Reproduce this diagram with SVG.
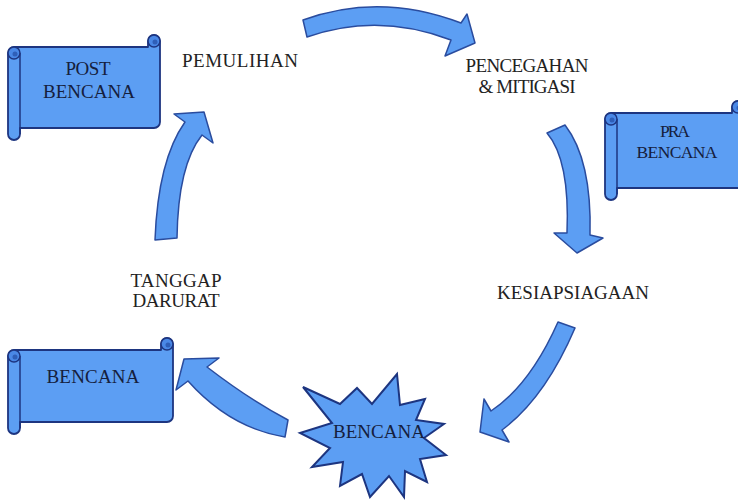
<svg xmlns="http://www.w3.org/2000/svg" width="738" height="500" viewBox="0 0 738 500">
<defs>
<style>
.bg{fill:#ffffff}
.scroll{fill:#5c9ef3;stroke:#1d3580;stroke-width:1.8;stroke-linejoin:round}
.roll{fill:#4a88e6;stroke:#1d3580;stroke-width:1.5}
.curl{fill:#2f5fb8;stroke:none}
.line{fill:none;stroke:#1d3580;stroke-width:1.5}
.arrow{fill:#5c9ef3;stroke:#2a4c9e;stroke-width:1.5;stroke-linejoin:round}
.star{fill:#5c9ef3;stroke:#1d3580;stroke-width:2;stroke-linejoin:miter}
.st{font-family:"Liberation Serif","Times New Roman",serif;font-size:19px;fill:#15203d;text-anchor:middle}
.sm{font-size:17.5px}
.lb{font-family:"Liberation Serif","Times New Roman",serif;font-size:19px;fill:#222222;text-anchor:middle}
</style>
</defs>
<rect class="bg" x="0" y="0" width="738" height="500"/>

<g id="connectors">
  <path id="arrow-top" class="arrow" d="M303,20 Q380,-8 461,23 L467,14 L475,43 L445,56 L451,40 Q378,12 307,37 Z"/>
  <path id="arrow-right" class="arrow" d="M547,133 Q570,160 567,233 L554,233 L577,253 L603,238 L590,235 Q592,160 565,125 Z"/>
  <path id="arrow-lower-right" class="arrow" d="M558,322 Q530,385 491,411 L484,399 L480,432 L509,442 L502,430 Q545,398 575,328 Z"/>
  <path id="arrow-bottom-left" class="arrow" d="M288,420 Q250,400 207,367 L219,358 L184,359 L176,390 L188,381 Q230,428 285,437 Z"/>
  <path id="arrow-left" class="arrow" d="M155,240 Q158,160 185,122 L174,114 L204,112 L213,143 L202,135 Q178,165 177,238 Z"/>
</g>

<g id="node-post-bencana">
  <path class="scroll" d="M8,53 A6,6 0 0 1 14,47 L148,47 L148,41 A6,6 0 0 1 160,41 L160,122 A6,6 0 0 1 154,128 L20,128 L20,134 A6,6 0 0 1 8,134 Z"/>
  <path class="line" d="M20,53 L20,134"/>
  <circle class="roll" cx="14" cy="53" r="6"/>
  <circle class="curl" cx="15" cy="54" r="2.5"/>
  <circle class="roll" cx="154" cy="41" r="6"/>
  <circle class="curl" cx="155" cy="42" r="2.5"/>
  <text class="st" x="88" y="75" textLength="45">POST</text>
  <text class="st" x="89" y="98" textLength="92">BENCANA</text>
</g>

<g id="node-pra-bencana">
  <path class="scroll" d="M605,119 A6,6 0 0 1 611,113 L732,113 L732,107 A6,6 0 0 1 744,107 L744,182 A6,6 0 0 1 738,188 L617,188 L617,194 A6,6 0 0 1 605,194 Z"/>
  <path class="line" d="M617,119 L617,194"/>
  <circle class="roll" cx="611" cy="119" r="6"/>
  <circle class="curl" cx="612" cy="120" r="2.5"/>
  <circle class="roll" cx="738" cy="107" r="6"/>
  <circle class="curl" cx="739" cy="108" r="2.5"/>
  <text class="st sm" x="675" y="137" textLength="30">PRA</text>
  <text class="st sm" x="677" y="158" textLength="81">BENCANA</text>
</g>

<g id="node-bencana-scroll">
  <path class="scroll" d="M8,356 A6,6 0 0 1 14,350 L161,350 L161,344 A6,6 0 0 1 173,344 L173,416 A6,6 0 0 1 167,422 L20,422 L20,428 A6,6 0 0 1 8,428 Z"/>
  <path class="line" d="M20,356 L20,428"/>
  <circle class="roll" cx="14" cy="356" r="6"/>
  <circle class="curl" cx="15" cy="357" r="2.5"/>
  <circle class="roll" cx="167" cy="344" r="6"/>
  <circle class="curl" cx="168" cy="345" r="2.5"/>
  <text class="st" x="93" y="383" textLength="93">BENCANA</text>
</g>

<g id="node-bencana-star">
  <polygon class="star" points="303,387 340,404 357,388 372,404 397,374 400,405 425,399 416,420 444,424 424,438 446,455 420,459 427,482 405,471 404,497 389,476 370,497 362,474 340,486 343,462 312,467 330,448 300,433 332,423"/>
  <text class="st" x="379" y="438" textLength="92">BENCANA</text>
</g>

<g id="label-pemulihan"><text class="lb" x="240" y="67" textLength="116">PEMULIHAN</text></g>
<g id="label-pencegahan">
  <text class="lb" x="527" y="72" textLength="123">PENCEGAHAN</text>
  <text class="lb" x="527" y="93" textLength="97">&amp; MITIGASI</text>
</g>
<g id="label-kesiapsiagaan"><text class="lb" x="573" y="299" textLength="152">KESIAPSIAGAAN</text></g>
<g id="label-tanggap">
  <text class="lb" x="176" y="287" textLength="91">TANGGAP</text>
  <text class="lb" x="176" y="307" textLength="87">DARURAT</text>
</g>
</svg>
